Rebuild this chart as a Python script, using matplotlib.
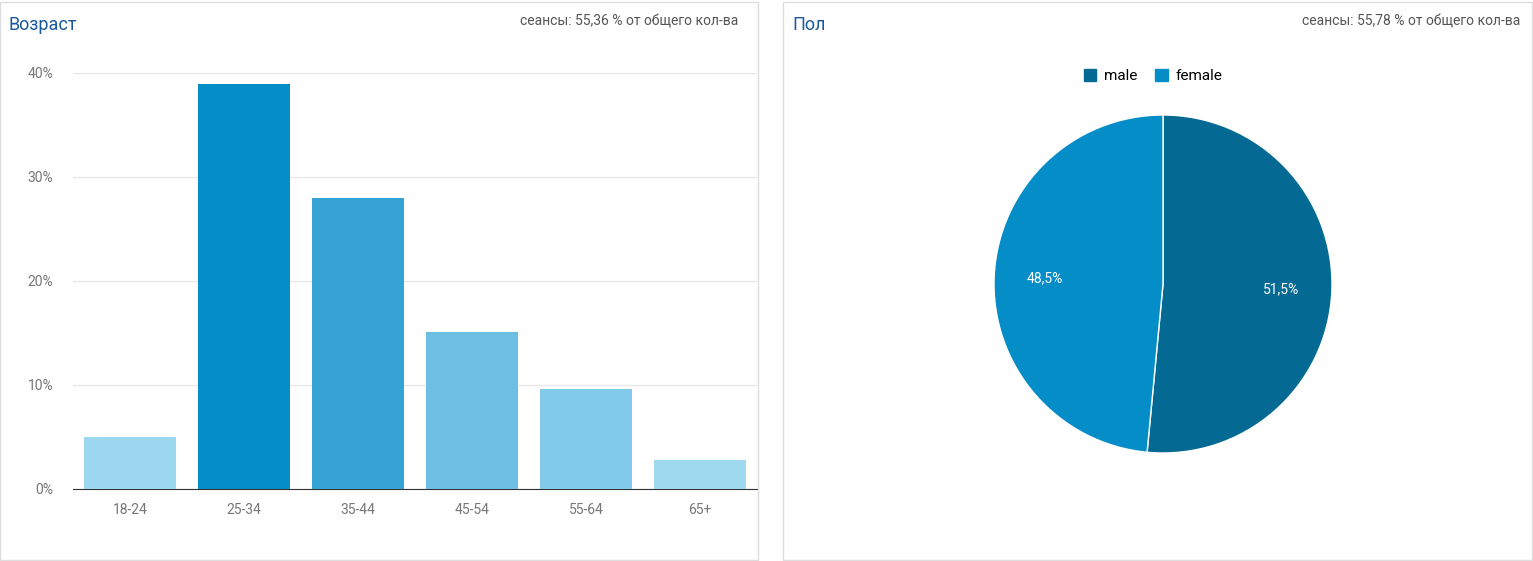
import matplotlib
matplotlib.use("Agg")
import matplotlib.pyplot as plt
from matplotlib.patches import Rectangle, Patch

W, H = 1533, 561
age_groups = ["18-24", "25-34", "35-44", "45-54", "55-64", "65+"]
age_share = [5.0, 38.9, 28.0, 15.1, 9.6, 2.8]
age_colors = ["#9bd7ee", "#058dc7", "#36a3d5", "#6cbfe3", "#82caea", "#9fd9ef"]
y_ticks = [0, 10, 20, 30, 40]

genders = ["male", "female"]
gender_share = [51.5, 48.5]
gender_colors = ["#056a93", "#058dc7"]

TITLE = "#1a5a9a"
GRAY = "#555555"
AX_TXT = "#777777"

plt.rcParams["font.family"] = ["Roboto", "DejaVu Sans"]
fig = plt.figure(figsize=(W / 100, H / 100), dpi=100)
fig.patch.set_facecolor("white")


def box(x0, y0, x1, y1):
    """Axes rect in figure fraction from pixel coords (top-left origin)."""
    return [x0 / W, 1 - y1 / H, (x1 - x0) / W, (y1 - y0) / H]


# panel borders
for x0, x1 in [(0, 758), (783, 1532)]:
    fig.add_artist(Rectangle((x0 / W, 1 / H), (x1 - x0) / W, 558 / H,
                             transform=fig.transFigure, fill=False,
                             edgecolor="#dddddd", linewidth=1))

fig.text(9 / W, 1 - 25 / H, "Возраст", fontsize=13, color=TITLE, va="center")
fig.text(738 / W, 1 - 22 / H, "сеансы: 55,36 % от общего кол-ва", fontsize=10,
         color=GRAY, ha="right", va="center")
fig.text(792 / W, 1 - 25 / H, "Пол", fontsize=13, color=TITLE, va="center")
fig.text(1520 / W, 1 - 22 / H, "сеансы: 55,78 % от общего кол-ва", fontsize=10,
         color=GRAY, ha="right", va="center")

# --- bar chart ---
ax = fig.add_axes(box(73, 73, 757, 489))
x = range(len(age_groups))
ax.bar(x, age_share, color=age_colors, width=0.8, zorder=3)
ax.set_xlim(-0.5, len(age_groups) - 0.5)
ax.set_ylim(0, 40)
ax.set_yticks(y_ticks)
ax.set_yticklabels([f"{v}%" for v in y_ticks])
ax.set_xticks(list(x))
ax.set_xticklabels(age_groups)
ax.grid(axis="y", color="#e8e8e8", linewidth=1, zorder=0)
for name, sp in ax.spines.items():
    sp.set_visible(name == "bottom")
ax.spines["bottom"].set_color("#333333")
ax.tick_params(length=0, colors=AX_TXT, labelsize=10)
ax.tick_params(axis="x", pad=10)
ax.tick_params(axis="y", pad=14)
for lbl in ax.get_yticklabels():
    lbl.set_horizontalalignment("right")

# --- pie chart ---
cx, cy, r = 1163, 284, 169
pax = fig.add_axes(box(cx - r, cy - r, cx + r, cy + r))
wedges, _ = pax.pie(gender_share, colors=gender_colors, startangle=90,
                    counterclock=False, radius=1,
                    wedgeprops=dict(edgecolor="white", linewidth=1))
pax.set_xlim(-1, 1)
pax.set_ylim(-1, 1)
pax.set_aspect("equal")
import numpy as np
start = 90
for share in gender_share:
    mid = np.deg2rad(start - share * 3.6 / 2)
    pax.text(0.7 * np.cos(mid), 0.7 * np.sin(mid), f"{share:.1f}%".replace(".", ","),
             color="white", fontsize=10, ha="center", va="center")
    start -= share * 3.6

fig.legend([Patch(color=c) for c in gender_colors], genders,
           loc="center", bbox_to_anchor=(1153 / W, 1 - 76 / H), ncol=2,
           frameon=False, fontsize=11, handlelength=0.8, handleheight=0.8,
           columnspacing=1.2, handletextpad=0.5)

fig.savefig("out.png", dpi=100, facecolor="white")
